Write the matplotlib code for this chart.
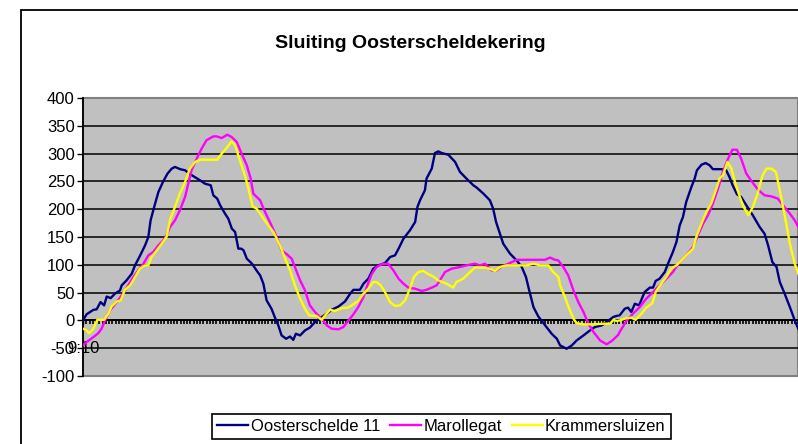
import matplotlib
matplotlib.use("Agg")
import matplotlib.pyplot as plt
from matplotlib.patches import Rectangle

plt.rcParams["font.family"] = ["Liberation Sans", "DejaVu Sans"]
plt.rcParams["axes.unicode_minus"] = False

# minutes after 9:10 (one category per minute) and water levels
oost_x = [0, 1.1, 3.2, 4.2, 5.4, 6.5, 7.3, 8.5, 9.8, 11.4, 11.9, 13.4, 15, 16, 17.6, 19.1,
          20.1, 20.8, 21.9, 23.2, 24.6, 26, 27.3, 28.3, 29.9, 31.4, 33.5, 36, 37.5, 39.3,
          40.1, 41.3, 42.2, 43.7, 44.7, 45.8, 46.8, 47.8, 48.7, 49.4, 50.4, 52, 53.5, 54.5,
          55.5, 56.5, 58, 59, 60.1, 61.1, 62.5, 63.7, 64.7, 65.5, 66.8, 68.3, 69.8, 71.4,
          72.9, 75, 76.5, 78.6, 80.6, 82.2, 83.2, 85.2, 86.3, 87.8, 89.3, 90.9, 92.9, 94.5,
          96, 97.1, 98.6, 100.6, 102.2, 102.9, 103.7, 105.2, 105.7, 107.3, 108.3, 109.3,
          110.4, 112.4, 114.5, 116, 118, 120.1, 121.1, 123.2, 125.2, 126.2, 127.1, 128.3,
          129.3, 131.4, 133.4, 135, 136.3, 137.3, 138.6, 140.1, 142.2, 144.2, 145.8, 146.8,
          148.8, 150.4, 151.9, 154, 156, 157.5, 159.6, 161.1, 163.1, 164.1, 165.1, 166.7,
          167.7, 168.7, 169.8, 171.1, 172.8, 174.4, 175.4, 176.2, 177.4, 179, 180, 181.5,
          182.6, 183.6, 184.6, 185.6, 187.2, 188.2, 188.9, 190.3, 191.6, 192.8, 193.8, 196.4,
          197.9, 198.9, 199.9, 201.2, 202.5, 204.1, 206.1, 208.2, 209.7, 210.8, 212.1, 213.4,
          214.4, 215.9, 217.5, 219, 220.1]
oost_y = [0, 11, 19, 20, 33, 27, 43, 40, 48, 54, 63, 72, 84, 99, 117, 135,
          150, 180, 204, 231, 249, 264, 273, 276, 272, 270, 261, 252, 246, 243,
          225, 219, 207, 192, 183, 165, 159, 129, 129, 126, 111, 102, 89, 81,
          66, 36, 21, 6, -9, -27, -33, -29, -35, -24, -27, -18, -13, -3,
          4, 12, 19, 25, 34, 48, 55, 55, 66, 75, 93, 99, 103, 114,
          117, 129, 147, 162, 177, 204, 216, 234, 255, 273, 301, 304,
          301, 298, 285, 267, 255, 243, 239, 228, 216, 201, 177, 156,
          138, 120, 108, 96, 78, 54, 24, 7, -9, -24, -33, -45,
          -51, -45, -36, -27, -18, -12, -9, -3, 6, 8, 9, 21,
          23, 15, 30, 27, 51, 59, 59, 71, 75, 87, 102, 123,
          141, 171, 186, 213, 240, 255, 270, 280, 283, 279, 272, 272,
          270, 258, 243, 227, 222, 207, 189, 168, 156, 135, 105, 96,
          69, 48, 24, 0, -15]

maro_x = [0, 1.1, 3.2, 4.7, 5.7, 6.8, 8.3, 9.3, 10.9, 12.4, 13.9, 15.5, 17, 18.6, 20.1,
          21.6, 23.2, 24.7, 25.7, 26.8, 28.3, 29.8, 31.4, 32.4, 33.4, 35, 36.5, 38, 40.1,
          41.1, 42.7, 44.4, 45.7, 47.3, 48.8, 50.4, 51.6, 52.4, 54.5, 56, 57.5, 59.6, 61.1,
          62.7, 64.2, 65.2, 66.8, 68.3, 69.8, 71.4, 73.4, 75, 76.5, 78.6, 80.1, 81.6, 83.2,
          84.7, 86.3, 87.3, 88.8, 90.3, 91.9, 93.9, 95.5, 97.1, 98.6, 100.1, 102.2, 104.2,
          105.7, 107.3, 108.8, 109.8, 111.4, 113.4, 116, 118, 120.6, 122.1, 123.7, 125.7,
          127.3, 128.8, 130.9, 133.4, 136.5, 139.5, 142.1, 143.7, 145.2, 146.2, 147.8, 149.3,
          150.9, 152.4, 154, 155.5, 157.1, 159.1, 161.1, 162.7, 164.7, 165.1, 167.2, 169.2,
          171.3, 173.3, 175.4, 177.4, 179.5, 181.5, 183.6, 185.6, 187.7, 189.2, 190.8, 192.3,
          193.8, 195.4, 196.9, 198.5, 199.8, 201.2, 202.5, 204.1, 205.9, 207.7, 209.7, 211.8,
          213.8, 215.4, 217.5, 219, 220.1]
maro_y = [-45, -39, -30, -23, -15, 0, 18, 25, 37, 49, 63, 78, 90, 102, 117,
          123, 135, 144, 153, 168, 180, 198, 222, 246, 270, 291, 309, 324, 331,
          331, 328, 334, 330, 321, 300, 279, 255, 228, 216, 195, 177, 150, 126,
          119, 111, 96, 72, 54, 27, 15, 3, -9, -15, -16, -12, -1, 11,
          24, 42, 60, 83, 96, 101, 102, 90, 75, 66, 59, 57, 53,
          55, 59, 63, 72, 87, 93, 96, 99, 102, 99, 102, 90,
          90, 97, 102, 109, 109, 109, 109, 113, 109, 108, 96, 81,
          54, 33, 15, -6, -21, -36, -43, -37, -26, -21, -1, 12,
          24, 39, 51, 63, 75, 87, 105, 117, 132, 153, 174, 189,
          210, 237, 267, 291, 307, 307, 291, 264, 249, 235, 225, 223,
          219, 207, 192, 180, 168]

kram_x = [0, 0.9, 1.9, 3.2, 4.4, 6.5, 7.8, 8.8, 10.4, 11.6, 12.9, 14.5, 16, 17.5, 19.1,
          20.1, 21.1, 22.7, 24.2, 25.7, 26.9, 28.3, 29.8, 31.4, 32.9, 34.5, 36, 38, 41.3,
          42.7, 44.2, 45.7, 46.8, 48.1, 49.8, 50.9, 52.2, 53.4, 54.5, 56.5, 58.6, 60.6,
          62.2, 63.7, 65.2, 66.8, 68.3, 69.6, 71.9, 73.4, 74.5, 76, 77.5, 79.6, 81.6, 83.2,
          84.7, 86.3, 87.8, 89.3, 90.3, 91.6, 92.9, 94.5, 96, 97.6, 99.1, 100.6, 101.8,
          103.2, 104.7, 106.3, 107.8, 109.3, 111.9, 113.9, 114.9, 117, 119.1, 120.6, 123.2,
          125.2, 126.8, 128.3, 130.4, 133.4, 136.5, 138.6, 140.6, 143.2, 144.7, 146.3, 146.8,
          148.3, 149.4, 150.9, 151.9, 154, 157.1, 160.1, 162.2, 163.2, 164.2, 165.2, 167.2,
          168.7, 170, 171.8, 173.3, 175.2, 176.2, 177.9, 179.5, 181, 182.6, 184.1, 185.6,
          187.7, 188.7, 190.3, 191.8, 193.3, 194.9, 195.9, 196.9, 198.3, 199.5, 200.6, 202.1,
          203.3, 204.7, 206.2, 207.7, 209.1, 210.3, 211.8, 213.2, 214.4, 216, 217.5, 219,
          220.1]
kram_y = [-15, -17, -23, -15, 1, 1, 12, 25, 34, 36, 55, 63, 78, 93, 99,
          99, 114, 126, 138, 150, 183, 204, 228, 249, 273, 285, 289, 289, 289,
          300, 310, 322, 315, 291, 261, 237, 205, 201, 192, 175, 159, 135,
          111, 90, 63, 39, 21, 9, 8, 1, 9, 19, 17, 22, 23, 29,
          35, 48, 57, 69, 69, 63, 51, 33, 26, 27, 36, 57, 78,
          87, 89, 83, 79, 72, 66, 59, 69, 75, 87, 95, 95,
          93, 89, 96, 99, 99, 99, 102, 99, 99, 87, 78, 63,
          42, 24, 3, -5, -7, -7, -6, -6, 1, -1, 0, 4,
          5, 1, 12, 23, 31, 51, 66, 78, 93, 99, 108, 117,
          129, 150, 174, 195, 210, 237, 255, 261, 285, 273, 249, 222,
          204, 189, 205, 231, 261, 273, 273, 267, 234, 186, 138, 102,
          84]

series_names = ["Oosterschelde 11", "Marollegat", "Krammersluizen"]
first_label = "9:10"
n_minutes = 220

W, H = 798, 444
fig = plt.figure(figsize=(W / 100, H / 100), dpi=100)
fig.patch.set_facecolor("white")

# chart area border (runs off the right and bottom edge)
fig.patches.append(Rectangle((21 / W, -0.2), 1.5, 1.2 - 10 / H, transform=fig.transFigure,
                             fill=False, edgecolor="black", linewidth=1.3))

fig.text(410 / W, 1 - 44 / H, "Sluiting Oosterscheldekering", ha="center", va="center",
         fontsize=14, fontweight="bold")

ax = fig.add_axes([83 / W, 68 / H, 715 / W, 278 / H])
ax.set_facecolor("#C0C0C0")
ax.set_xlim(0, n_minutes)
ax.set_ylim(-100, 400)

for yv in range(-50, 400, 50):
    ax.axhline(yv, color="black", linewidth=1.1, zorder=1)

ax.plot(oost_x, oost_y, color="#000080", linewidth=1.7, label=series_names[0], zorder=3)
ax.plot(maro_x, maro_y, color="#FF00FF", linewidth=1.7, label=series_names[1], zorder=3)
ax.plot(kram_x, kram_y, color="#FFFF00", linewidth=1.7, label=series_names[2], zorder=3)

# plot area border
ax.add_patch(Rectangle((0, 0), 1, 1, transform=ax.transAxes, fill=False,
                       edgecolor="#808080", linewidth=1.5, zorder=0.5, clip_on=False))
for s in ["top", "right"]:
    ax.spines[s].set_visible(False)
ax.spines["left"].set_linewidth(1.3)
ax.spines["bottom"].set_position(("data", 0))
ax.spines["bottom"].set_linewidth(1.3)
ax.spines["bottom"].set_zorder(2)

ax.set_yticks(range(-100, 401, 50))
ax.tick_params(axis="y", direction="out", length=4, width=1, pad=2, labelsize=12)
ax.set_xticks([0])
ax.set_xticklabels([first_label])
ax.set_xticks(range(0, n_minutes + 1), minor=True)
ax.tick_params(axis="x", which="major", direction="out", length=3, width=1, pad=12,
               labelsize=12)
ax.tick_params(axis="x", which="minor", direction="out", length=3, width=1.2)

leg = fig.legend(loc="center", bbox_to_anchor=(441.5 / W, 18 / H), ncol=3, fontsize=12,
                 frameon=True, fancybox=False, framealpha=1, edgecolor="black",
                 handlelength=1.85, handletextpad=0.15, columnspacing=0.6,
                 borderpad=0.3, borderaxespad=0)
leg.get_frame().set_linewidth(1.2)

fig.savefig("out.png", dpi=100)
